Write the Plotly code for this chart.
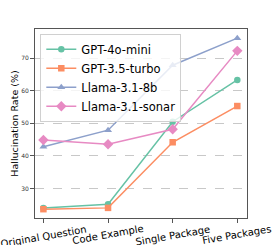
import plotly.graph_objects as go

categories = ["Original Question", "Code Example", "Single Package", "Five Packages"]
gpt4o_mini = [24.1, 25.2, 50.5, 63.3]
gpt35_turbo = [23.7, 24.1, 44.2, 55.3]
llama_8b = [42.8, 47.9, 67.8, 76.1]
llama_sonar = [44.9, 43.6, 48.2, 72.2]
y_ticks = [30, 40, 50, 60, 70]

series = [
    ("GPT-4o-mini", gpt4o_mini, "#66c2a5", "circle", 6.5),
    ("GPT-3.5-turbo", gpt35_turbo, "#fc8d62", "square", 6.5),
    ("Llama-3.1-8b", llama_8b, "#8da0cb", "triangle-up", 7),
    ("Llama-3.1-sonar", llama_sonar, "#e78ac3", "diamond", 8),
]

fig = go.Figure()
xs = list(range(len(categories)))
for name, vals, color, sym, ms in series:
    fig.add_trace(go.Scatter(
        x=xs, y=vals, name=name, mode="lines+markers",
        line=dict(color=color, width=1.5),
        marker=dict(symbol=sym, size=ms, color=color),
    ))

# centered, rotated category labels (matplotlib-style rotation=10, ha=center)
for i, lab in enumerate(categories):
    fig.add_annotation(
        x=xs[i], y=0, xref="x", yref="paper",
        text=lab, showarrow=False, textangle=-10,
        xanchor="center", yanchor="top", yshift=-4,
        font=dict(size=10, family="DejaVu Sans", color="black"),
        borderpad=0,
    )

fig.update_layout(
    width=275, height=245,
    margin=dict(l=35, r=28, t=29, b=27),
    paper_bgcolor="white", plot_bgcolor="white",
    font=dict(family="DejaVu Sans", color="black"),
    showlegend=True,
    legend=dict(
        x=0.025, y=0.975, xanchor="left", yanchor="top",
        bgcolor="rgba(255,255,255,0.8)", bordercolor="#d0d0d0", borderwidth=1,
        font=dict(size=11.5, family="DejaVu Sans", color="black"),
        itemwidth=30,
    ),
    xaxis=dict(
        tickmode="array", tickvals=xs, showticklabels=False,
        range=[-0.13, 3.15],
        automargin=False,
        showgrid=False, zeroline=False,
        showline=True, mirror=True, linecolor="#555555", linewidth=1,
        ticks="outside", ticklen=4, tickcolor="#555555",
    ),
    yaxis=dict(
        tickmode="array", tickvals=y_ticks, ticktext=[str(v) for v in y_ticks],
        range=[21.0, 78.9],
        tickfont=dict(size=6, family="DejaVu Sans", color="#333333"),
        title=dict(text="Hallucination Rate (%)", font=dict(size=9.5, family="DejaVu Sans", color="black"), standoff=0),
        automargin=False,
        showgrid=True, gridcolor="#c8c8c8", griddash="dash", gridwidth=1,
        zeroline=False,
        showline=True, mirror=True, linecolor="#555555", linewidth=1,
        ticks="outside", ticklen=4, tickcolor="#555555",
    ),
)

fig.write_html("out.html", config={"displayModeBar": False},
               post_script="document.body.style.margin='0';document.body.style.padding='0';")
